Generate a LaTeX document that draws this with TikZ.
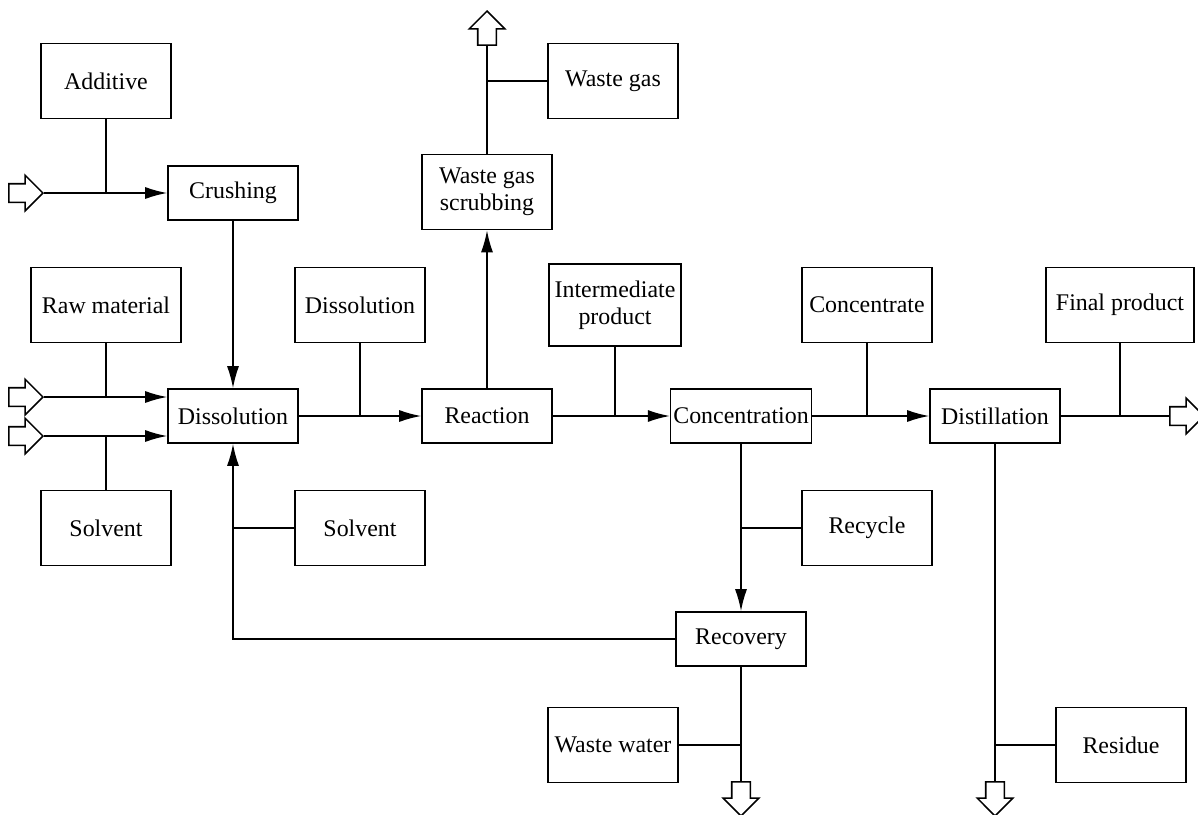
\documentclass[tikz,border=0pt]{standalone}
\usepackage{fontspec}
\setmainfont{Liberation Serif}
\usepackage{tikz}
\usetikzlibrary{positioning,shapes.arrows,arrows.meta}

\begin{document}
\begin{tikzpicture}[
x=0.02cm, y=-0.02cm,
font=\fontsize{13.6}{15.5}\selectfont,
line width=0.9pt,
>={Latex[length=4.4mm,width=2.4mm]},
box/.style={
	draw,
	align=center,
	inner sep=1.5pt,
	minimum width=2.6cm,
	minimum height=1.08cm
},
ibox/.style={
	draw,
	align=center,
	inner sep=1.5pt,
	minimum width=2.6cm,
	minimum height=1.5cm
},
blk/.style={
	draw,
	single arrow,
	inner sep=0.17cm,
	minimum height=0.68cm,
	minimum width=0.68cm,
	single arrow head extend=0.17cm,
	anchor=tip
}
]
\useasboundingbox (0,0) rectangle (1198,815);

% inputs and outputs
\node[blk] (in1) at (44,193) {};
\node[blk] (in2) at (44,397) {};
\node[blk] (in3) at (44,436) {};
\node[blk, shape border rotate=90] (outgas) at (487,10) {};
\node[blk] (outprod) at (1205,416) {};
\node[blk, shape border rotate=270] (outww) at (741,817) {};
\node[blk, shape border rotate=270] (outres) at (995,817) {};

% process steps
\node[box] (crush) at (233,193) {Crushing};
\node[box] (diss) at (233,416) {Dissolution};
\node[box] (react) at (487,416) {Reaction};
\node[box, minimum height=1.5cm] (scrub) at (487,192) {Waste gas\\scrubbing};
\node[box, minimum width=2.8cm] (conc) at (741,416) {Concentration};
\node[box] (dist) at (995,416) {Distillation};
\node[box] (recov) at (741,639) {Recovery};

% streams
\node[ibox] (add) at (106,81) {Additive};
\node[ibox, minimum width=3cm] (raw) at (106,305) {Raw material};
\node[ibox] (solv1) at (106,528) {Solvent};
\node[ibox] (diss2) at (360,305) {Dissolution};
\node[ibox] (solv2) at (360,528) {Solvent};
\node[ibox] (wgas) at (613,81) {Waste gas};
\node[ibox, minimum width=2.64cm, minimum height=1.64cm] (inter) at (615,305) {Intermediate\\product};
\node[ibox] (concen) at (867,305) {Concentrate};
\node[ibox, minimum width=2.96cm] (final) at (1120,305) {Final product};
\node[ibox] (recyc) at (867,528) {Recycle};
\node[ibox] (wwater) at (613,745) {Waste water};
\node[ibox] (resid) at (1121,745) {Residue};

\draw[->] (in1.tip) -- (crush.west);
\draw (add.south) -- (add.south |- crush.west);
\draw[->] (crush.south) -- (diss.north);
\draw[->] (in2.tip) -- (in2.tip -| diss.west);
\draw[->] (in3.tip) -- (in3.tip -| diss.west);
\draw (raw.south) -- (raw.south |- in2.tip);
\draw (solv1.north) -- (solv1.north |- in3.tip);
\draw[->] (diss.east) -- (react.west);
\draw (diss2.south) -- (diss2.south |- diss.east);
\draw[->] (react.north) -- (scrub.south);
\draw (scrub.north) -- (outgas.tail);
\draw (wgas.west) -- (wgas.west -| scrub.north);
\draw[->] (react.east) -- (conc.west);
\draw (inter.south) -- (inter.south |- conc.west);
\draw[->] (conc.east) -- (dist.west);
\draw (concen.south) -- (concen.south |- dist.west);
\draw (dist.east) -- (outprod.tail);
\draw (final.south) -- (final.south |- dist.east);
\draw[->] (conc.south) -- (recov.north);
\draw (recyc.west) -- (recyc.west -| conc.south);
\draw[->] (recov.west) -| (diss.south);
\draw (solv2.west) -- (solv2.west -| diss.south);
\draw (recov.south) -- (outww.tail);
\draw (wwater.east) -- (wwater.east -| recov.south);
\draw (dist.south) -- (outres.tail);
\draw (resid.west) -- (resid.west -| dist.south);

\end{tikzpicture}
\end{document}
